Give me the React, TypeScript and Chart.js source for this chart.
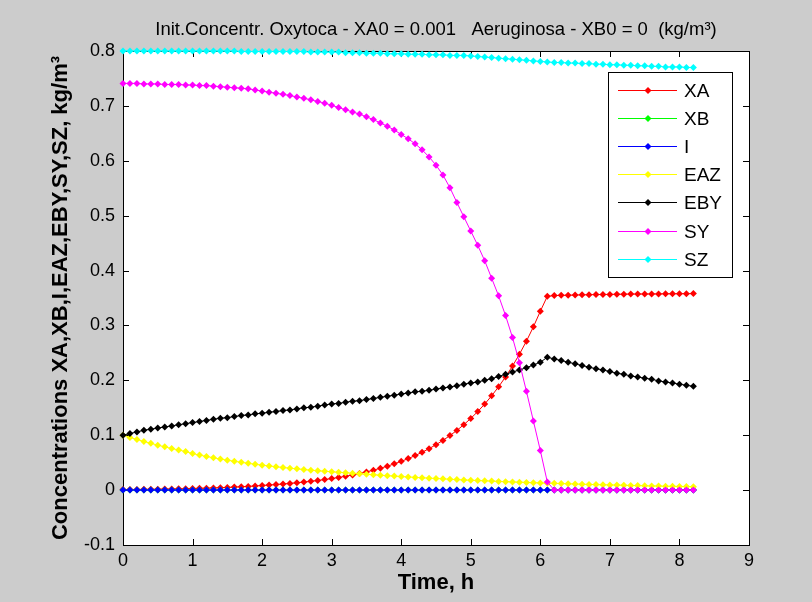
import React, { useEffect, useRef } from 'react';
import { Chart, registerables } from 'chart.js';

Chart.register(...registerables);

const FONT = '"Liberation Sans", Arial, Helvetica, sans-serif';

const TITLE = 'Init.Concentr. Oxytoca - XA0 = 0.001   Aeruginosa - XB0 = 0  (kg/m\u00B3)';
const X_TITLE = 'Time, h';
const Y_TITLE = 'Concentrations XA,XB,I,EAZ,EBY,SY,SZ, kg/m\u00B3';

const X_TICKS = [0, 1, 2, 3, 4, 5, 6, 7, 8, 9];
const Y_TICKS = [-0.1, 0, 0.1, 0.2, 0.3, 0.4, 0.5, 0.6, 0.7, 0.8];

const SERIES_LABELS = ['XA', 'XB', 'I', 'EAZ', 'EBY', 'SY', 'SZ'];
const SERIES_COLORS = ['#ff0000', '#00ff00', '#0000ff', '#ffff00', '#000000', '#ff00ff', '#00ffff'];

// time, h
const T = [
  0, 0.1, 0.2, 0.3, 0.4, 0.5, 0.6, 0.7, 0.8, 0.9,
  1, 1.1, 1.2, 1.3, 1.4, 1.5, 1.6, 1.7, 1.8, 1.9,
  2, 2.1, 2.2, 2.3, 2.4, 2.5, 2.6, 2.7, 2.8, 2.9,
  3, 3.1, 3.2, 3.3, 3.4, 3.5, 3.6, 3.7, 3.8, 3.9,
  4, 4.1, 4.2, 4.3, 4.4, 4.5, 4.6, 4.7, 4.8, 4.9,
  5, 5.1, 5.2, 5.3, 5.4, 5.5, 5.6, 5.7, 5.8, 5.9,
  6, 6.1, 6.2, 6.3, 6.4, 6.5, 6.6, 6.7, 6.8, 6.9,
  7, 7.1, 7.2, 7.3, 7.4, 7.5, 7.6, 7.7, 7.8, 7.9,
  8, 8.1, 8.2,
];

const XA = [
  0.0010, 0.0011, 0.0012, 0.0014, 0.0015, 0.0017, 0.0019, 0.0021, 0.0023, 0.0026,
  0.0029, 0.0032, 0.0036, 0.0040, 0.0044, 0.0049, 0.0055, 0.0061, 0.0068, 0.0076,
  0.0084, 0.0092, 0.0101, 0.0111, 0.0122, 0.0133, 0.0146, 0.0160, 0.0175, 0.0192,
  0.0210, 0.0230, 0.0252, 0.0276, 0.0303, 0.0332, 0.0363, 0.0398, 0.0436, 0.0478,
  0.0524, 0.0574, 0.0629, 0.0689, 0.0755, 0.0827, 0.0906, 0.0993, 0.1088, 0.1192,
  0.1306, 0.1431, 0.1568, 0.1718, 0.1883, 0.2063, 0.2260, 0.2477, 0.2714, 0.2974,
  0.3259, 0.3530, 0.3545, 0.3548, 0.3551, 0.3554, 0.3557, 0.3560, 0.3562, 0.3564,
  0.3566, 0.3568, 0.3570, 0.3571, 0.3572, 0.3573, 0.3574, 0.3575, 0.3576, 0.3577,
  0.3578, 0.3579, 0.3580,
];

const XB = [
  0, 0, 0, 0, 0, 0, 0, 0, 0, 0,
  0, 0, 0, 0, 0, 0, 0, 0, 0, 0,
  0, 0, 0, 0, 0, 0, 0, 0, 0, 0,
  0, 0, 0, 0, 0, 0, 0, 0, 0, 0,
  0, 0, 0, 0, 0, 0, 0, 0, 0, 0,
  0, 0, 0, 0, 0, 0, 0, 0, 0, 0,
  0, 0, 0, 0, 0, 0, 0, 0, 0, 0,
  0, 0, 0, 0, 0, 0, 0, 0, 0, 0,
  0, 0, 0,
];

const I = [
  0, 0, 0, 0, 0, 0, 0, 0, 0, 0,
  0, 0, 0, 0, 0, 0, 0, 0, 0, 0,
  0, 0, 0, 0, 0, 0, 0, 0, 0, 0,
  0, 0, 0, 0, 0, 0, 0, 0, 0, 0,
  0, 0, 0, 0, 0, 0, 0, 0, 0, 0,
  0, 0, 0, 0, 0, 0, 0, 0, 0, 0,
  0, 0, 0, 0, 0, 0, 0, 0, 0, 0,
  0, 0, 0, 0, 0, 0, 0, 0, 0, 0,
  0, 0, 0,
];

const EAZ = [
  0.1000, 0.0960, 0.0922, 0.0886, 0.0852, 0.0819, 0.0788, 0.0758, 0.0730, 0.0703,
  0.0665, 0.0638, 0.0613, 0.0589, 0.0566, 0.0545, 0.0525, 0.0506, 0.0488, 0.0471,
  0.0455, 0.0440, 0.0425, 0.0412, 0.0399, 0.0387, 0.0375, 0.0364, 0.0354, 0.0344,
  0.0334, 0.0325, 0.0316, 0.0307, 0.0298, 0.0289, 0.0280, 0.0271, 0.0263, 0.0255,
  0.0247, 0.0239, 0.0232, 0.0225, 0.0218, 0.0211, 0.0205, 0.0198, 0.0192, 0.0186,
  0.0180, 0.0175, 0.0169, 0.0164, 0.0159, 0.0154, 0.0149, 0.0144, 0.0140, 0.0135,
  0.0131, 0.0127, 0.0123, 0.0119, 0.0115, 0.0111, 0.0107, 0.0104, 0.0100, 0.0097,
  0.0094, 0.0091, 0.0088, 0.0085, 0.0082, 0.0079, 0.0076, 0.0074, 0.0071, 0.0069,
  0.0066, 0.0064, 0.0062,
];

const EBY = [
  0.100, 0.103, 0.106, 0.109, 0.111, 0.113, 0.115, 0.117, 0.119, 0.121,
  0.123, 0.125, 0.127, 0.129, 0.131, 0.132, 0.134, 0.136, 0.137, 0.139,
  0.140, 0.142, 0.143, 0.145, 0.146, 0.148, 0.150, 0.151, 0.153, 0.155,
  0.157, 0.158, 0.160, 0.162, 0.163, 0.165, 0.167, 0.169, 0.171, 0.173,
  0.175, 0.177, 0.179, 0.180, 0.182, 0.184, 0.186, 0.188, 0.190, 0.193,
  0.195, 0.197, 0.200, 0.203, 0.207, 0.211, 0.215, 0.219, 0.223, 0.228,
  0.233, 0.242, 0.239, 0.236, 0.233, 0.230, 0.227, 0.224, 0.221, 0.219,
  0.216, 0.213, 0.211, 0.208, 0.206, 0.204, 0.202, 0.199, 0.197, 0.195,
  0.193, 0.191, 0.189,
];

const SY = [
  0.741, 0.741, 0.741, 0.740, 0.740, 0.740, 0.739, 0.739, 0.739, 0.738,
  0.738, 0.737, 0.737, 0.736, 0.735, 0.734, 0.733, 0.732, 0.731, 0.729,
  0.727, 0.725, 0.723, 0.721, 0.719, 0.716, 0.714, 0.711, 0.708, 0.705,
  0.701, 0.697, 0.693, 0.689, 0.685, 0.680, 0.675, 0.669, 0.663, 0.656,
  0.648, 0.640, 0.631, 0.620, 0.607, 0.592, 0.574, 0.551, 0.524, 0.498,
  0.472, 0.446, 0.418, 0.386, 0.354, 0.318, 0.278, 0.232, 0.180, 0.126,
  0.072, 0.015, 0, 0, 0, 0, 0, 0, 0, 0,
  0, 0, 0, 0, 0, 0, 0, 0, 0, 0,
  0, 0, 0,
];

const SZ = [
  0.800, 0.800, 0.800, 0.800, 0.800, 0.800, 0.800, 0.800, 0.800, 0.800,
  0.800, 0.800, 0.800, 0.800, 0.800, 0.800, 0.800, 0.799, 0.799, 0.799,
  0.799, 0.799, 0.799, 0.799, 0.799, 0.799, 0.799, 0.798, 0.798, 0.798,
  0.798, 0.798, 0.797, 0.797, 0.797, 0.796, 0.796, 0.796, 0.795, 0.795,
  0.795, 0.794, 0.794, 0.794, 0.793, 0.793, 0.793, 0.792, 0.792, 0.792,
  0.791, 0.790, 0.789, 0.788, 0.787, 0.786, 0.785, 0.784, 0.783, 0.782,
  0.781, 0.780, 0.779, 0.779, 0.778, 0.778, 0.777, 0.777, 0.776, 0.776,
  0.775, 0.775, 0.774, 0.774, 0.773, 0.773, 0.772, 0.772, 0.771, 0.771,
  0.771, 0.770, 0.770,
];

const SERIES = [XA, XB, I, EAZ, EBY, SY, SZ];

function diamond(ctx: CanvasRenderingContext2D, x: number, y: number, r: number, color: string) {
  ctx.beginPath();
  ctx.moveTo(x, y - r);
  ctx.lineTo(x + r, y);
  ctx.lineTo(x, y + r);
  ctx.lineTo(x - r, y);
  ctx.closePath();
  ctx.fillStyle = color;
  ctx.fill();
}

const framePlugin = {
  id: 'matlabFrame',
  beforeDraw(chart: any) {
    const { ctx, chartArea } = chart;
    const { left, right, top, bottom } = chartArea;
    ctx.save();
    ctx.fillStyle = '#ffffff';
    ctx.fillRect(left, top, right - left, bottom - top);
    ctx.restore();
  },
  beforeDatasetsDraw(chart: any) {
    const { ctx, chartArea } = chart;
    const { left, right, top, bottom } = chartArea;
    const xs = chart.scales.x;
    const ys = chart.scales.y;
    ctx.save();
    ctx.strokeStyle = '#000';
    ctx.lineWidth = 1;
    ctx.strokeRect(Math.round(left) + 0.5, Math.round(top) + 0.5, Math.round(right - left), Math.round(bottom - top));
    const tl = 6;
    ctx.beginPath();
    X_TICKS.forEach((v) => {
      const px = Math.round(xs.getPixelForValue(v)) + 0.5;
      ctx.moveTo(px, bottom);
      ctx.lineTo(px, bottom - tl);
      ctx.moveTo(px, top);
      ctx.lineTo(px, top + tl);
    });
    Y_TICKS.forEach((v) => {
      const py = Math.round(ys.getPixelForValue(v)) + 0.5;
      ctx.moveTo(left, py);
      ctx.lineTo(left + tl, py);
      ctx.moveTo(right, py);
      ctx.lineTo(right - tl, py);
    });
    ctx.stroke();
    ctx.restore();
  },
};

const legendPlugin = {
  id: 'matlabLegend',
  afterDraw(chart: any) {
    const { ctx } = chart;
    const x0 = 608, y0 = 72, x1 = 732, y1 = 277;
    ctx.save();
    ctx.fillStyle = '#fff';
    ctx.fillRect(x0, y0, x1 - x0, y1 - y0);
    ctx.strokeStyle = '#000';
    ctx.lineWidth = 1;
    ctx.strokeRect(x0 + 0.5, y0 + 0.5, x1 - x0, y1 - y0);
    ctx.font = '19px ' + FONT;
    ctx.textBaseline = 'middle';
    ctx.textAlign = 'left';
    chart.data.datasets.forEach((ds: any, i: number) => {
      const y = Math.round(90 + i * 28.1) + 0.5;
      ctx.strokeStyle = ds.borderColor;
      ctx.beginPath();
      ctx.moveTo(618, y);
      ctx.lineTo(677, y);
      ctx.stroke();
      diamond(ctx, 648, y, 3.5, ds.borderColor);
      ctx.fillStyle = '#000';
      ctx.fillText(ds.label, 684, y + 1);
    });
    ctx.restore();
  },
};

export default function App() {
  const ref = useRef<HTMLCanvasElement | null>(null);

  useEffect(() => {
    if (!ref.current) return;
    const datasets = SERIES.map((vals, i) => ({
      label: SERIES_LABELS[i],
      data: T.map((t, j) => ({ x: t, y: vals[j] })),
      borderColor: SERIES_COLORS[i],
      backgroundColor: SERIES_COLORS[i],
      borderWidth: 1,
      pointStyle: 'rectRot',
      pointRadius: 3.5,
      pointBorderWidth: 0,
      pointBackgroundColor: SERIES_COLORS[i],
      tension: 0,
      clip: false,
      order: SERIES.length - i,
    }));

    const chart = new Chart(ref.current, {
      type: 'line',
      data: { datasets } as any,
      plugins: [framePlugin, legendPlugin],
      options: {
        responsive: false,
        animation: false,
        layout: { padding: { left: 0, right: 63, top: 0, bottom: 0 } },
        plugins: {
          legend: { display: false },
          tooltip: { enabled: false },
          title: {
            display: true,
            text: TITLE,
            fullSize: false,
            color: '#000',
            font: { family: FONT, size: 18.5, weight: 'normal', lineHeight: 1.2 },
            padding: { top: 19, bottom: 9.8 },
          },
        },
        scales: {
          x: {
            type: 'linear',
            min: 0,
            max: 9,
            afterFit: (s: any) => { s.height = 57; },
            grid: { display: false, drawTicks: false },
            border: { display: false },
            ticks: {
              stepSize: 1,
              autoSkip: false,
              maxRotation: 0,
              padding: 5,
              color: '#000',
              font: { family: FONT, size: 18 },
            },
            title: {
              display: true,
              text: X_TITLE,
              color: '#000',
              font: { family: FONT, size: 22, weight: 'bold', lineHeight: 1.2 },
              padding: { top: 0, bottom: 6 },
            },
          },
          y: {
            type: 'linear',
            min: -0.1,
            max: 0.8,
            afterFit: (s: any) => { s.width = 123; },
            grid: { display: false, drawTicks: false },
            border: { display: false },
            ticks: {
              stepSize: 0.1,
              autoSkip: false,
              padding: 8,
              color: '#000',
              font: { family: FONT, size: 18 },
            },
            title: {
              display: true,
              text: Y_TITLE,
              color: '#000',
              font: { family: FONT, size: 22, weight: 'bold', lineHeight: 1.2 },
              padding: { top: 48, bottom: 0 },
            },
          },
        },
      } as any,
    });
    return () => chart.destroy();
  }, []);

  return (
    <div style={{ position: 'fixed', left: 0, top: 0, width: 812, height: 602, background: '#cccccc' }}>
      <canvas ref={ref} width={812} height={602} style={{ display: 'block', width: 812, height: 602 }} />
    </div>
  );
}
